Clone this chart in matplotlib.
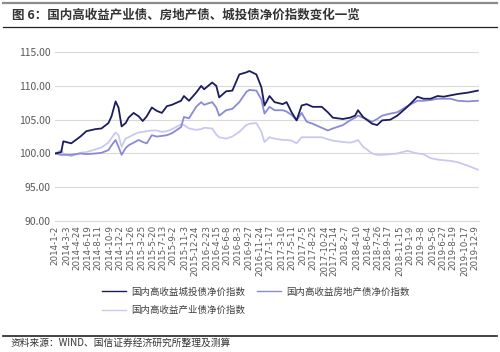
import numpy as np
import pandas as pd
import matplotlib.pyplot as plt
from matplotlib.lines import Line2D

plt.rcParams['font.family'] = ['Noto Sans CJK SC', 'DejaVu Sans']

# sample dates
dates = pd.to_datetime([
    "2014-01-02", "2014-02-02", "2014-02-13", "2014-03-26", "2014-05-12", "2014-06-12",
    "2014-07-29", "2014-08-29", "2014-10-04", "2014-10-20", "2014-11-10", "2014-11-25",
    "2014-12-11", "2015-01-01", "2015-01-16", "2015-02-11", "2015-03-09", "2015-03-30",
    "2015-04-20", "2015-05-16", "2015-06-11", "2015-07-07", "2015-08-02", "2015-08-28",
    "2015-10-14", "2015-10-29", "2015-11-24", "2015-12-31", "2016-01-26", "2016-02-10",
    "2016-03-23", "2016-04-13", "2016-04-28", "2016-06-03", "2016-07-05", "2016-08-10",
    "2016-09-15", "2016-10-01", "2016-11-06", "2016-12-02", "2016-12-18", "2017-01-13",
    "2017-02-08", "2017-03-22", "2017-04-11", "2017-05-07", "2017-06-02", "2017-06-28",
    "2017-07-24", "2017-08-24", "2017-10-10", "2017-11-10", "2017-12-06", "2018-01-27",
    "2018-03-05", "2018-03-31", "2018-04-15", "2018-05-11", "2018-06-27", "2018-07-23",
    "2018-08-18", "2018-09-29", "2018-11-04", "2018-12-26", "2019-02-16", "2019-03-19",
    "2019-04-25", "2019-05-31", "2019-07-01", "2019-08-06", "2019-09-12", "2019-11-03",
    "2019-12-25",
])

chengtou = [
    100.0, 100.2, 101.8, 101.5, 102.5, 103.3, 103.6, 103.7, 104.5, 105.5, 107.7, 106.8,
    104.0, 104.5, 105.3, 106.0, 105.5, 104.8, 105.5, 106.8, 106.3, 106.0, 107.0, 107.2,
    107.8, 108.5, 107.8, 109.0, 110.0, 109.5, 110.5, 110.0, 108.3, 109.2, 109.3, 111.7,
    112.0, 112.2, 111.7, 109.8, 107.1, 108.5, 107.6, 107.3, 107.6, 106.1, 104.9, 107.1,
    107.3, 106.9, 106.9, 106.1, 105.3, 105.1, 105.3, 105.6, 106.4, 105.4, 104.4, 104.2,
    104.9, 105.0, 105.6, 106.9, 108.4, 108.1, 108.1, 108.5, 108.4, 108.6, 108.8, 109.0,
    109.3,
]
fangdichan = [
    100.0, 99.8, 99.8, 99.8, 100.0, 99.9, 100.0, 100.1, 100.5, 101.2, 102.0, 101.0,
    99.8, 100.8, 101.2, 101.6, 102.0, 101.7, 101.5, 102.7, 102.5, 102.6, 102.7, 103.0,
    103.9, 105.4, 105.2, 106.9, 107.6, 107.2, 107.6, 106.8, 105.6, 106.4, 106.6, 107.6,
    109.1, 109.4, 109.3, 108.0, 105.9, 106.9, 106.4, 106.4, 106.2, 105.7, 104.9, 106.0,
    104.7, 104.4, 103.8, 103.4, 103.7, 104.2, 104.9, 105.3, 105.6, 105.3, 104.7, 105.1,
    105.6, 105.9, 106.1, 107.0, 107.8, 107.8, 107.9, 108.1, 108.1, 108.1, 107.8, 107.7,
    107.8,
]
chanye = [
    100.0, 100.5, 100.0, 99.6, 100.1, 100.2, 100.6, 100.9, 101.6, 102.3, 103.1, 102.7,
    101.0, 102.2, 102.4, 102.8, 103.1, 103.2, 103.3, 103.4, 103.4, 103.2, 103.3, 103.6,
    104.3, 104.2, 103.7, 103.5, 103.6, 103.8, 103.7, 102.8, 102.4, 102.2, 102.5, 103.2,
    104.2, 104.4, 104.5, 103.2, 101.7, 102.4, 102.2, 102.0, 102.0, 101.9, 101.5, 102.4,
    102.4, 102.4, 102.4, 102.1, 101.9, 101.7, 101.6, 101.8, 102.0, 101.0, 100.0, 99.8,
    99.8, 99.9, 100.0, 100.4, 100.0, 99.9, 99.3, 99.1, 99.0, 98.9, 98.7, 98.2,
    97.6,
]

tick_labels = [
    "2014-1-2", "2014-3-3", "2014-4-24", "2014-6-19", "2014-8-11", "2014-10-9",
    "2014-12-2", "2015-1-26", "2015-3-25", "2015-5-20", "2015-7-13", "2015-9-2",
    "2015-11-3", "2015-12-24", "2016-2-23", "2016-4-15", "2016-6-8", "2016-8-3",
    "2016-9-27", "2016-11-24", "2017-1-17", "2017-3-16", "2017-5-11", "2017-7-5",
    "2017-8-25", "2017-10-24", "2017-12-14", "2018-2-7", "2018-4-10", "2018-6-4",
    "2018-7-26", "2018-9-17", "2018-11-15", "2019-1-9", "2019-3-8", "2019-5-6",
    "2019-6-27", "2019-8-19", "2019-10-17", "2019-12-9",
]
y_ticks = [90, 95, 100, 105, 110, 115]

c_dark = "#1c1c5e"
c_mid = "#8a8ad6"
c_light = "#c9c9f0"

fig = plt.figure(figsize=(5.0, 3.52), dpi=100)
ax = fig.add_axes([0.11, 0.372, 0.848, 0.48])

ax.plot(dates, chanye, color=c_light, lw=1.3)
ax.plot(dates, fangdichan, color=c_mid, lw=1.3)
ax.plot(dates, chengtou, color=c_dark, lw=1.3)

ax.set_ylim(90, 115)
ax.set_yticks(y_ticks)
ax.set_yticklabels(["%.2f" % v for v in y_ticks], fontsize=7.5, color="#595959")
ax.set_xlim(pd.Timestamp("2014-01-01"), pd.Timestamp("2019-12-31"))
ax.set_xticks(pd.to_datetime(tick_labels))
ax.set_xticklabels(tick_labels, rotation=90, fontsize=6.3, color="#595959",
                   family=['DejaVu Sans'])
ax.tick_params(axis='both', length=0, pad=3)
ax.grid(axis='y', color="#d9d9d9", lw=0.8)
ax.set_axisbelow(True)
for s in ['top', 'right', 'left']:
    ax.spines[s].set_visible(False)
ax.spines['bottom'].set_color("#d9d9d9")

handles = [Line2D([], [], color=c_dark, lw=1),
           Line2D([], [], color=c_light, lw=1),
           Line2D([], [], color=c_mid, lw=1)]
names = ["国内高收益城投债净价指数", "国内高收益产业债净价指数", "国内高收益房地产债净价指数"]
fig.legend(handles, names, ncol=2, loc='upper left', bbox_to_anchor=(0.204, 0.184),
           frameon=False, fontsize=6.8, handlelength=2.5, handletextpad=0.55,
           columnspacing=1.3, labelspacing=0.95, borderpad=0, borderaxespad=0,
           labelcolor="#404040")

# header and footer
fig.add_artist(Line2D([0.006, 0.994], [0.991, 0.991], color="#8c8c8c", lw=1.6))
fig.text(0.024, 0.957, "图 6：国内高收益产业债、房地产债、城投债净价指数变化一览",
         fontsize=9, fontweight='bold', color="#333333", va='center')
fig.add_artist(Line2D([0.006, 0.994], [0.923, 0.923], color="#222222", lw=0.9))
fig.add_artist(Line2D([0.006, 0.994], [0.045, 0.045], color="#222222", lw=1.2))
fig.text(0.022, 0.025, "资料来源：WIND、国信证券经济研究所整理及测算",
         fontsize=7.0, color="#333333", va='center')

fig.savefig("out.png", dpi=100)
